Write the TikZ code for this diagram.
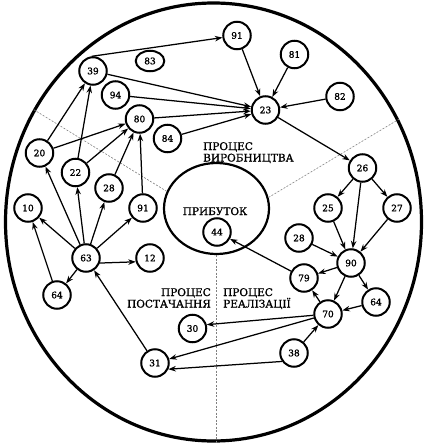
\documentclass[tikz,border=0pt]{standalone}
\usepackage{fontspec}
\setmainfont{DejaVu Serif}
\newfontfamily\numfnt[FakeBold=1.4]{DejaVu Serif}
\newfontfamily\lblfnt[FakeBold=0.9]{DejaVu Serif}
\usetikzlibrary{shapes.geometric,arrows.meta}
\begin{document}
\begin{tikzpicture}[x=1pt,y=-1pt,
  num/.style={circle,draw,line width=2pt,minimum size=27.5pt,inner sep=0pt,font=\numfnt\fontsize{9}{10}\selectfont},
  arr/.style={line width=1.25pt,-{Stealth[length=7.5pt,width=5.5pt]}},
  lbl/.style={inner sep=0pt,font=\lblfnt\fontsize{10.5}{12}\selectfont},
  sep/.style={gray,line width=0.6pt,dash pattern=on 2pt off 1.5pt}]
\useasboundingbox (0,0) rectangle (435,444);
% outer and inner regions
\node[ellipse,draw,line width=3.2pt,minimum width=416pt,minimum height=438pt,inner sep=0pt] (outer) at (213.5,222) {};
\node[ellipse,draw,line width=2.2pt,minimum width=105pt,minimum height=91pt,inner sep=0pt] (prof) at (216.5,208.5) {};
\draw[sep] (prof.161.6) -- (outer.148.5);
\draw[sep] (prof.12) -- (outer.29);
\draw[sep] (prof.south) -- (prof.south |- outer.south);
% labels
\node[lbl,anchor=base west] (tv1) at (203,150) {ПРОЦЕС};
\node[lbl,anchor=base west] (tv2) at (203,161.5) {ВИРОБНИЦТВА};
\node[lbl,anchor=base] (tpr) at (215,215) {ПРИБУТОК};
\node[lbl,anchor=base east] (tp1) at (211,296) {ПРОЦЕС};
\node[lbl,anchor=base east] (tp2) at (211,307.5) {ПОСТАЧАННЯ};
\node[lbl,anchor=base west] (tr1) at (223,296) {ПРОЦЕС};
\node[lbl,anchor=base west] (tr2) at (223,307.5) {РЕАЛІЗАЦІЇ};
% nodes
\node[num] (n91a) at (237,35.5) {91};
\node[num] (n81) at (294.5,54.5) {81};
\node[ellipse,draw,line width=2pt,minimum width=28.5pt,minimum height=20.5pt,inner sep=0pt,font=\numfnt\fontsize{9}{10}\selectfont] (n83) at (150,61) {83};
\node[num] (n39) at (93,71) {39};
\node[num] (n82) at (340,96.5) {82};
\node[num] (n94) at (115.5,95) {94};
\node[num] (n23) at (265.5,110) {23};
\node[num] (n80) at (139.5,119) {80};
\node[num] (n84) at (167.5,138.5) {84};
\node[num] (n20) at (39.5,153) {20};
\node[num] (n22) at (75.5,172.5) {22};
\node[num] (n28a) at (109,188) {28};
\node[num] (n91b) at (143,208) {91};
\node[num] (n10) at (28,208) {10};
\node[num] (n63) at (86,258) {63};
\node[num] (n12) at (150,258) {12};
\node[num] (n64a) at (57,295) {64};
\node[num] (n26) at (362.5,168) {26};
\node[num] (n25) at (328,208) {25};
\node[num] (n27) at (397,208) {27};
\node[num] (n28b) at (299,238) {28};
\node[num] (n90) at (351,263) {90};
\node[num] (n79) at (304,278) {79};
\node[num] (n64b) at (376,302) {64};
\node[num] (n70) at (328,314) {70};
\node[num] (n30) at (192.5,328.5) {30};
\node[num] (n31) at (155,363) {31};
\node[num] (n38) at (294,353) {38};
\node[num] (n44) at (217,232) {44};
% connectors
\draw[arr] (n39.95) -- (n91a);
\draw[arr] (n39) -- (n23);
\draw[arr] (n94) -- (n23);
\draw[arr] (n80) -- (n23);
\draw[arr] (n84) -- (n23);
\draw[arr] (n91a) -- (n23);
\draw[arr] (n81) -- (n23);
\draw[arr] (n82) -- (n23);
\draw[arr] (n23) -- (n26);
\draw[arr] (n20) -- (n39);
\draw[arr] (n22) -- (n39);
\draw[arr] (n20) -- (n80);
\draw[arr] (n22) -- (n80);
\draw[arr] (n28a) -- (n80);
\draw[arr] (n91b) -- (n80);
\draw[arr] (n63) -- (n20);
\draw[arr] (n63) -- (n22);
\draw[arr] (n63) -- (n28a);
\draw[arr] (n63) -- (n91b);
\draw[arr] (n63) -- (n10);
\draw[arr] (n63.-20) -- (n12.195);
\draw[arr] (n63) -- (n64a);
\draw[arr] (n64a) -- (n10);
\draw[arr] (n31) -- (n63);
\draw[arr] (n26) -- (n25);
\draw[arr] (n26) -- (n27);
\draw[arr] (n26) -- (n90);
\draw[arr] (n25) -- (n90);
\draw[arr] (n27) -- (n90);
\draw[arr] (n28b) -- (n90);
\draw[arr] (n90) -- (n79);
\draw[arr] (n90) -- (n64b);
\draw[arr] (n90) -- (n70);
\draw[arr] (n79) -- (n44);
\draw[arr] (n70) -- (n79);
\draw[arr] (n64b) -- (n70);
\draw[arr] (n70) -- (n30.15);
\draw[arr] (n70) -- (n31);
\draw[arr] (n38.215) -- (n31.-25);
\draw[arr] (n38) -- (n70);
\end{tikzpicture}
\end{document}
